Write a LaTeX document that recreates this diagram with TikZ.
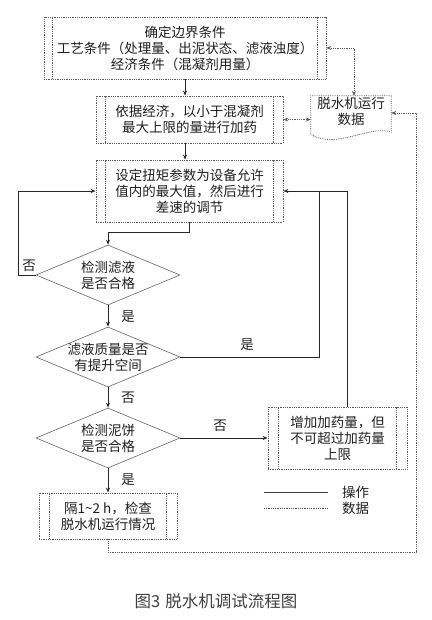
\documentclass[tikz,border=0pt]{standalone}
\usepackage{fontspec}
\setmainfont{Noto Sans CJK SC}
\usetikzlibrary{arrows.meta,shapes.geometric,calc}
\begin{document}
\begin{tikzpicture}[x=1pt,y=-1pt,
  every node/.style={font=\fontsize{13.5pt}{16pt}\selectfont, text=black!88},
  pbox/.style={draw=black!65, densely dotted, line width=0.8pt, align=center, inner sep=0pt},
  dia/.style={diamond, draw=black!60, line width=0.6pt, minimum width=144pt, minimum height=60pt, inner sep=0pt},
  txt/.style={align=center, inner sep=0pt},
  op/.style={draw=black!85, line width=0.8pt},
  data/.style={draw=black!65, densely dotted, line width=0.8pt},
  tip/.style={-{Stealth[length=5pt,width=4pt]}},
  tips/.style={{Stealth[length=5pt,width=4pt]}-{Stealth[length=5pt,width=4pt]}},
  lbl/.style={inner sep=0pt}
]
\useasboundingbox (0,0) rectangle (431,620);

% boxes
\node[pbox, minimum width=282pt, minimum height=62pt] (b1) at (185,48)
  {确定边界条件\\工艺条件（处理量、出泥状态、滤液浊度）\\经济条件（混凝剂用量）};
\node[pbox, minimum width=187pt, minimum height=47pt] (b2) at (189.5,119.5)
  {依据经济，以小于混凝剂\\最大上限的量进行加药};
\node[pbox, minimum width=187pt, minimum height=62pt] (b3) at (189.5,191)
  {设定扭矩参数为设备允许\\值内的最大值，然后进行\\差速的调节};
\node[pbox, minimum width=139pt, minimum height=62pt] (b4) at (337.5,438)
  {增加加药量，但\\不可超过加药量\\上限};
\node[pbox, minimum width=138pt, minimum height=46pt] (b5) at (108,516)
  {隔1\textasciitilde 2 h，检查\\脱水机运行情况};

% inner vertical lines
\foreach \b/\s in {b1/9,b2/10,b3/10,b4/11,b5/11}{
  \draw[data] ([xshift=\s pt]\b.north west) -- ([xshift=\s pt]\b.south west);
  \draw[data] ([xshift=-\s pt]\b.north east) -- ([xshift=-\s pt]\b.south east);
}

% document shape
\node[minimum width=80pt, minimum height=38pt, inner sep=0pt] (doc) at (351,115) {};
\draw[data] (doc.south west) -- (doc.north west) -- (doc.north east) -- ([yshift=2pt]doc.south east)
  .. controls ($(doc.south east)+(-20,-10)$) and ($(doc.south west)+(24,16)$) .. (doc.south west);
\node[txt] at (351,111) {脱水机运行\\数据};

% diamonds
\node[dia] (d1) at (108,275) {};
\node[txt] at (d1) {检测滤液\\是否合格};
\node[dia] (d2) at (108,357) {};
\node[txt] at (d2) {滤液质量是否\\有提升空间};
\node[dia] (d3) at (108,438) {};
\node[txt] at (d3) {检测泥饼\\是否合格};

% operation connectors
\draw[op,tip] (b1.south) -- (b1.south |- b2.north);
\draw[op,tip] (b2.south -| b1.south) -- (b3.north -| b1.south);
\draw[op,tip] (b3.south) -- ++(0,10) -| (d1.north);
\draw[op,tip] (d1.west) -- ++(-17,0) |- (b3.west);
\draw[op,tip] (d1.south) -- (d2.north);
\draw[op,tip] (d2.south) -- (d3.north);
\draw[op,tip] (d3.south) -- (b5.north);
\coordinate (j2) at ($(b3.east)+(36,0)$);
\draw[op] (d2.east) -| (j2);
\draw[op,tip] ([xshift=9.5pt]b4.north) |- (b3.east);
\draw[op,tip] (d3.east) -- (b4.west);

% labels
\node[lbl] at (29,266) {否};
\node[lbl] at (128,317) {是};
\node[lbl] at (247,345) {是};
\node[lbl] at (128,398) {否};
\node[lbl] at (220,426) {否};
\node[lbl] at (128,480) {是};

% data connectors
\draw[data,tips] (b2.east) -- (b2.east -| doc.west);
\draw[data,tips] (b1.east) -| ([xshift=3pt]doc.north);
\coordinate (r1) at (416,552);
\draw[data,tip] (b5.south) |- (r1) |- ([yshift=2pt]doc.east);

% legend
\coordinate (la) at (264,492);
\coordinate (lb) at (328,492);
\coordinate (lc) at (264,508);
\coordinate (ld) at (328,508);
\draw[op, draw=black!75] (la) -- (lb);
\draw[data] (lc) -- (ld);
\node[lbl, anchor=west] (lt1) at (342,492) {操作};
\node[lbl, anchor=west] (lt2) at (342,508) {数据};

% caption
\node[lbl, text=black!75, font=\fontsize{16.5pt}{18pt}\selectfont] (cap) at (216,601) {图3\hspace{0.3em}脱水机调试流程图};
\end{tikzpicture}
\end{document}
